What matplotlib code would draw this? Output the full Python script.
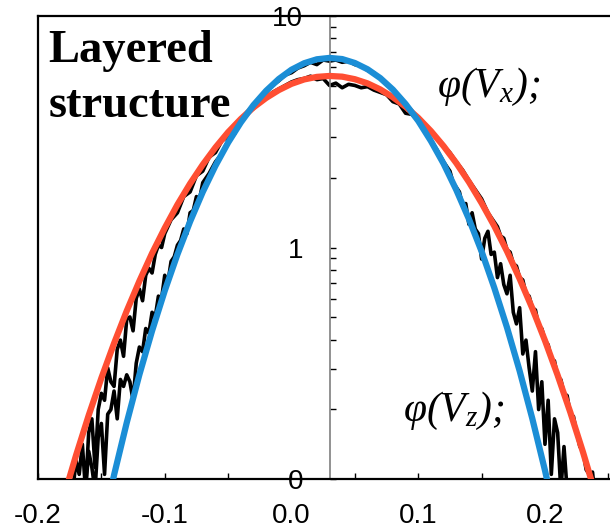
import matplotlib
matplotlib.use("Agg")
import matplotlib.pyplot as plt
from matplotlib.ticker import FixedLocator, FixedFormatter, LogLocator, NullFormatter
import numpy as np

plt.rcParams['font.family'] = ['Liberation Sans', 'DejaVu Sans']
plt.rcParams['axes.unicode_minus'] = False
plt.rcParams['mathtext.fontset'] = 'custom'
plt.rcParams['mathtext.rm'] = 'Liberation Serif:italic'
plt.rcParams['mathtext.it'] = 'Liberation Serif:italic'

# Axis ticks
x_major = [-0.2, -0.1, 0.0, 0.1, 0.2]
x_labels = ['-0.2', '-0.1', '0.0', '0.1', '0.2']
x_minor = [-0.15, -0.05, 0.05, 0.15, 0.25]
y_major = [0.1, 1, 10]
y_labels = ['0', '1', '10']

# Fitted distributions, log10(phi)
fit_vx_x = [-0.18, -0.17, -0.16, -0.15, -0.14, -0.13, -0.12, -0.11, -0.10, -0.09,
            -0.08, -0.07, -0.06, -0.05, -0.04, -0.03, -0.02, -0.01, 0.00, 0.01,
            0.02, 0.03, 0.04, 0.05, 0.06, 0.07, 0.08, 0.09, 0.10, 0.11,
            0.12, 0.13, 0.14, 0.15, 0.16, 0.17, 0.18, 0.19, 0.20, 0.21,
            0.22, 0.23, 0.24]
fit_vx_log = [-1.083, -0.898, -0.725, -0.564, -0.414, -0.274, -0.145, -0.025, 0.084, 0.185,
              0.276, 0.358, 0.432, 0.498, 0.555, 0.605, 0.646, 0.680, 0.707, 0.726,
              0.737, 0.741, 0.738, 0.727, 0.709, 0.683, 0.649, 0.608, 0.560, 0.503,
              0.438, 0.365, 0.283, 0.192, 0.093, -0.016, -0.135, -0.263, -0.402, -0.552,
              -0.712, -0.884, -1.068]

fit_vz_x = [-0.15, -0.14, -0.13, -0.12, -0.11, -0.10, -0.09, -0.08, -0.07, -0.06,
            -0.05, -0.04, -0.03, -0.02, -0.01, 0.00, 0.01, 0.02, 0.03, 0.04,
            0.05, 0.06, 0.07, 0.08, 0.09, 0.10, 0.11, 0.12, 0.13, 0.14,
            0.15, 0.16, 0.17, 0.18, 0.19, 0.20, 0.21]
fit_vz_log = [-1.228, -0.983, -0.757, -0.549, -0.360, -0.187, -0.030, 0.112, 0.240, 0.353,
              0.453, 0.540, 0.615, 0.677, 0.728, 0.768, 0.796, 0.813, 0.819, 0.814,
              0.797, 0.770, 0.732, 0.682, 0.620, 0.547, 0.460, 0.362, 0.249, 0.123,
              -0.017, -0.174, -0.345, -0.533, -0.739, -0.963, -1.207]

# Measured distributions, log10(phi)
vx_x = [-0.1725, -0.1700, -0.1675, -0.1650, -0.1625, -0.1600, -0.1575, -0.1550, -0.1525, -0.1500,
        -0.1475, -0.1450, -0.1425, -0.1400, -0.1375, -0.1350, -0.1325, -0.1300, -0.1275, -0.1250,
        -0.1225, -0.1200, -0.1175, -0.1150, -0.1125, -0.1100, -0.1075, -0.1050, -0.1025, -0.1000,
        -0.095, -0.090, -0.085, -0.080, -0.075, -0.070, -0.065, -0.060, -0.055, -0.050,
        -0.045, -0.040, -0.035, -0.030, -0.025, -0.020, -0.015, -0.010, -0.005, 0.000,
        0.005, 0.010, 0.015, 0.020, 0.025, 0.030, 0.035, 0.040, 0.045, 0.050,
        0.055, 0.060, 0.065, 0.070, 0.075, 0.080, 0.085, 0.090, 0.095, 0.100,
        0.105, 0.110, 0.115, 0.120, 0.125, 0.130, 0.135, 0.140, 0.145, 0.150,
        0.155, 0.160,
        0.1625, 0.1650, 0.1675, 0.1700, 0.1725, 0.1750, 0.1775, 0.1800, 0.1825, 0.1850,
        0.1875, 0.1900, 0.1925, 0.1950, 0.1975, 0.2000, 0.2025, 0.2050, 0.2075, 0.2100,
        0.2125, 0.2150, 0.2175, 0.2200, 0.2225, 0.2250, 0.2275, 0.2300, 0.2325, 0.2350,
        0.2375, 0.2400]
vx_log = [-1.05, -0.92, -0.98, -0.85, -1.05, -0.80, -0.74, -0.95, -0.70, -0.63,
          -0.66, -0.52, -0.58, -0.60, -0.44, -0.40, -0.47, -0.31, -0.30, -0.36,
          -0.22, -0.18, -0.23, -0.12, -0.09, -0.11, -0.03, 0.01, 0.00, 0.06,
          0.12, 0.15, 0.22, 0.24, 0.31, 0.33, 0.39, 0.41, 0.46, 0.48,
          0.525, 0.54, 0.585, 0.60, 0.63, 0.645, 0.67, 0.685, 0.70, 0.715,
          0.725, 0.73, 0.74, 0.725, 0.73, 0.70, 0.71, 0.69, 0.705, 0.70,
          0.69, 0.695, 0.68, 0.67, 0.66, 0.63, 0.62, 0.58, 0.575, 0.545,
          0.53, 0.50, 0.475, 0.44, 0.41, 0.37, 0.335, 0.29, 0.25, 0.21,
          0.15, 0.11,
          0.09, 0.05, 0.04, -0.01, -0.02, -0.07, -0.08, -0.13, -0.14, -0.20,
          -0.21, -0.26, -0.27, -0.34, -0.35, -0.40, -0.42, -0.48, -0.49, -0.56,
          -0.57, -0.63, -0.64, -0.72, -0.73, -0.80, -0.86, -0.88, -0.96, -0.98,
          -0.97, -1.10]

vz_x = [-0.1625, -0.1600, -0.1575, -0.1550, -0.1525, -0.1500, -0.1475, -0.1450, -0.1425, -0.1400,
        -0.1375, -0.1350, -0.1325, -0.1300, -0.1275, -0.1250, -0.1225, -0.1200, -0.1175, -0.1150,
        -0.1125, -0.1100, -0.1075, -0.1050, -0.1025, -0.1000, -0.0975, -0.0950, -0.0925, -0.0900,
        -0.0875, -0.0850, -0.0825, -0.0800, -0.0775, -0.0750, -0.0725, -0.0700,
        -0.065, -0.060, -0.055, -0.050, -0.045, -0.040, -0.035, -0.030, -0.025, -0.020,
        -0.015, -0.010, -0.005, 0.000, 0.005, 0.010, 0.015, 0.020, 0.025, 0.030,
        0.035, 0.040, 0.045, 0.050, 0.055, 0.060, 0.065, 0.070, 0.075, 0.080,
        0.085, 0.090, 0.095, 0.100, 0.105, 0.110, 0.115, 0.120, 0.125,
        0.1275, 0.1300, 0.1325, 0.1350, 0.1375, 0.1400, 0.1425, 0.1450, 0.1475, 0.1500,
        0.1525, 0.1550, 0.1575, 0.1600, 0.1625, 0.1650, 0.1675, 0.1700, 0.1725, 0.1750,
        0.1775, 0.1800, 0.1825, 0.1850, 0.1875, 0.1900, 0.1925, 0.1950, 0.1975, 0.2000,
        0.2025, 0.2050, 0.2075, 0.2100, 0.2125, 0.2150, 0.2175]
vz_log = [-1.05, -0.88, -0.95, -1.05, -0.82, -0.76, -0.98, -0.72, -0.70, -0.62,
          -0.74, -0.57, -0.60, -0.55, -0.58, -0.66, -0.50, -0.43, -0.45, -0.35,
          -0.37, -0.28, -0.30, -0.21, -0.22, -0.12, -0.15, -0.06, -0.04, 0.01,
          0.03, 0.08, 0.06, 0.15, 0.16, 0.22, 0.21, 0.28,
          0.32, 0.37, 0.405, 0.46, 0.49, 0.545, 0.575, 0.61, 0.645, 0.67,
          0.70, 0.72, 0.745, 0.755, 0.775, 0.785, 0.80, 0.79, 0.81, 0.805,
          0.81, 0.80, 0.805, 0.79, 0.785, 0.765, 0.755, 0.73, 0.71, 0.68,
          0.655, 0.62, 0.59, 0.545, 0.51, 0.465, 0.42, 0.37, 0.33,
          0.28, 0.26, 0.24, 0.18, 0.19, 0.10, 0.15, 0.08, 0.06, -0.05,
          0.04, 0.07, -0.03, -0.02, -0.13, -0.07, -0.16, -0.20, -0.12, -0.28,
          -0.33, -0.26, -0.46, -0.40, -0.52, -0.62, -0.45, -0.70, -0.58, -0.85,
          -0.66, -0.98, -0.74, -0.80, -1.05, -0.86, -1.05]

RED = '#FF4E32'
BLUE = '#1B8ED6'

fig = plt.figure(figsize=(6.1, 5.29), dpi=100)
ax = fig.add_axes([38 / 610, 50 / 529, 572 / 610, 463 / 529])
ax.set_yscale('log')
ax.set_xlim(-0.2, 0.2513)
ax.set_ylim(0.1, 10)

ax.plot(vx_x, 10 ** np.array(vx_log), color='black', lw=2.6, zorder=2,
        solid_joinstyle='round')
ax.plot(vz_x, 10 ** np.array(vz_log), color='black', lw=2.6, zorder=2,
        solid_joinstyle='round')
ax.plot(fit_vx_x, 10 ** np.array(fit_vx_log), color=RED, lw=4.5, zorder=3,
        solid_capstyle='butt')
ax.plot(fit_vz_x, 10 ** np.array(fit_vz_log), color=BLUE, lw=4.5, zorder=4,
        solid_capstyle='butt')

# Central y axis at the distribution centre, outer frame on the other sides
ax.spines['left'].set_position(('data', 0.03))
ax.spines['left'].set_color('#7f7f7f')
ax.spines['left'].set_linewidth(1.2)
ax.spines['right'].set_visible(False)
for side in ('top', 'bottom'):
    ax.spines[side].set_linewidth(1.6)
    ax.spines[side].set_color('black')
ax.plot([0, 0], [0, 1], transform=ax.transAxes, color='black', lw=1.6,
        clip_on=False, zorder=5)

ax.yaxis.set_major_locator(FixedLocator(y_major))
ax.yaxis.set_major_formatter(FixedFormatter(y_labels))
ax.yaxis.set_minor_locator(LogLocator(base=10, subs=range(2, 10)))
ax.yaxis.set_minor_formatter(NullFormatter())
ax.tick_params(axis='y', which='both', direction='in', length=4.5, width=1,
               color='black', labelsize=20, pad=19)

ax.set_xticks(x_major)
ax.set_xticklabels(x_labels)
ax.set_xticks(x_minor, minor=True)
ax.tick_params(axis='x', which='both', direction='in', length=4.5, width=1,
               color='black', labelsize=20, pad=17)

fig.text(48 / 610, 1 - 62 / 529, 'Layered', fontfamily='Liberation Serif',
         fontweight='bold', fontsize=33.5, ha='left', va='baseline')
fig.text(49 / 610, 1 - 117 / 529, 'structure', fontfamily='Liberation Serif',
         fontweight='bold', fontsize=33.5, ha='left', va='baseline')
fig.text(437 / 610, 1 - 97 / 529, r'$\varphi(V_x);$', fontsize=30,
         ha='left', va='baseline')
fig.text(403 / 610, 1 - 421 / 529, r'$\varphi(V_z);$', fontsize=30,
         ha='left', va='baseline')

fig.savefig('out.png', dpi=100)
